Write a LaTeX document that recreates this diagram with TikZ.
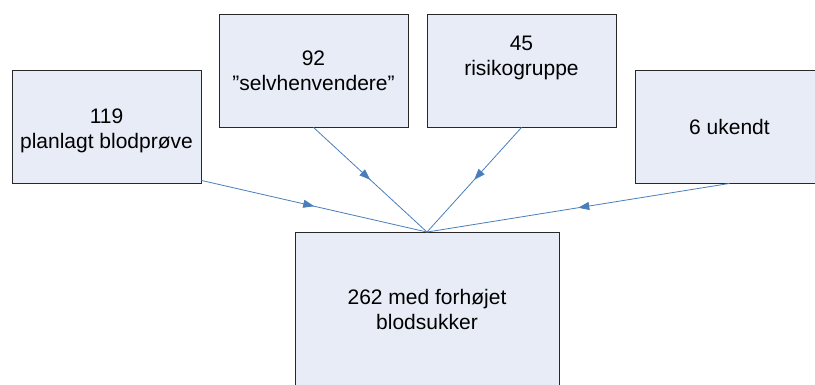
\documentclass[tikz,border=0pt]{standalone}
\usepackage{fontspec}
\setmainfont{Liberation Sans}
\usetikzlibrary{arrows.meta,decorations.markings}
\definecolor{boxfill}{RGB}{231,236,247}
\definecolor{boxline}{RGB}{40,40,40}
\definecolor{arrowblue}{RGB}{74,126,187}
\tikzset{
  box/.style={draw=boxline, fill=boxfill, line width=0.9pt, rectangle, inner sep=0pt},
  boxtext/.style={align=center, font=\fontsize{21}{25}\selectfont, inner sep=0pt},
  conn/.style={draw=arrowblue, line width=0.8pt, postaction={decorate},
    decoration={markings, mark=at position 0.5 with {\arrow{Triangle[length=11pt,width=8pt]}}}},
}
\begin{document}
\begin{tikzpicture}[x=1pt,y=-1pt]
\useasboundingbox (0,0) rectangle (815,385);
\clip (0,0) rectangle (815,385);
\fill[white] (0,0) rectangle (815,385);
\node[box, minimum width=189pt, minimum height=113pt] (b1) at (106.5,126.5) {};
\node[box, minimum width=189pt, minimum height=113pt] (b2) at (313.5,70.5) {};
\node[box, minimum width=189pt, minimum height=113pt] (b3) at (521.5,70.5) {};
\node[box, minimum width=189pt, minimum height=113pt] (b4) at (729.5,126.5) {};
\node[box, minimum width=264pt, minimum height=160pt] (b5) at (427,312.5) {};
\node[boxtext] (t1) at ([yshift=-4pt]b1.center) {119\\planlagt blodprøve};
\node[boxtext] (t2) at (b2.center) {92\\”selvhenvendere”};
\node[boxtext] (t3) at ([yshift=13pt]b3.center) {45\\risikogruppe};
\node[boxtext] (t4) at (b4.center) {6 ukendt};
\node[boxtext] (t5) at ([yshift=3pt]b5.center) {262 med forhøjet\\blodsukker};
\coordinate (m) at (b5.north);
\coordinate (s1) at ([yshift=3pt]b1.south east);
\draw[conn] (s1) -- (m);
\draw[conn] (b2.south) -- (m);
\draw[conn] (b3.south) -- (m);
\draw[conn] (b4.south) -- (m);
\end{tikzpicture}
\end{document}
